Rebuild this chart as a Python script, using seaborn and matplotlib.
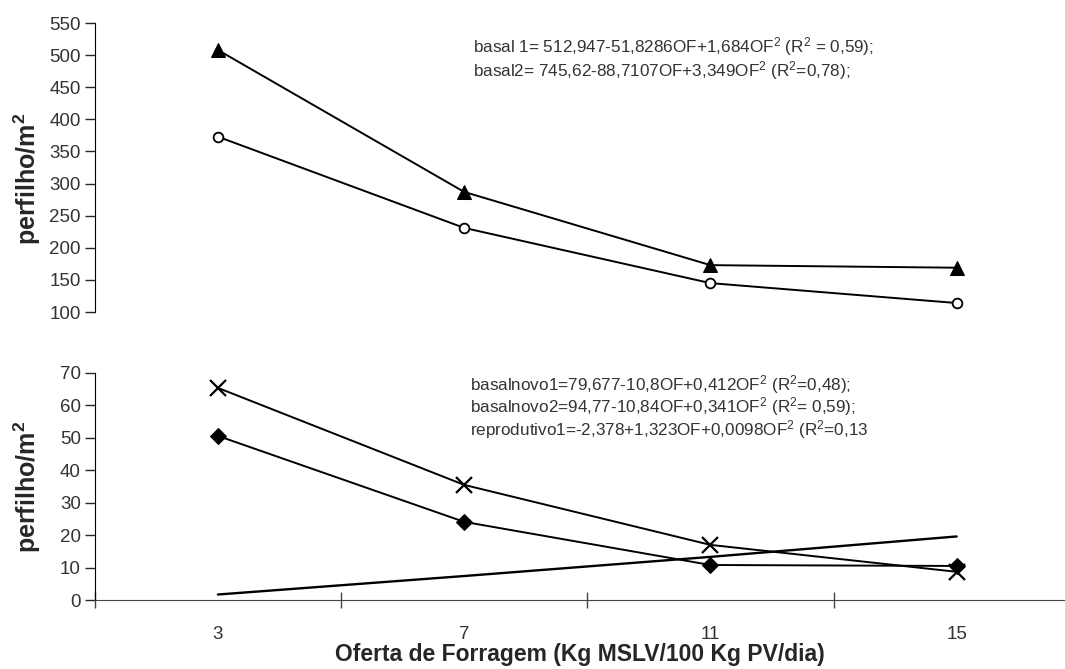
import numpy as np
import pandas as pd
import matplotlib
matplotlib.use("Agg")
import matplotlib.pyplot as plt
import seaborn as sns

sns.set_style("white")
plt.rcParams['font.family'] = ['Liberation Sans', 'DejaVu Sans']
plt.rcParams['mathtext.default'] = 'regular'

# Oferta de forragem (categorias do eixo x)
oferta = ['3', '7', '11', '15']

# perfilhos basais (painel de cima)
basal1 = [373, 231, 145, 114]
basal2 = [508, 287, 173, 169]

# perfilhos novos e reprodutivos (painel de baixo)
basalnovo1 = [50.6, 24.1, 10.8, 10.5]
basalnovo2 = [65.4, 35.5, 17.0, 8.7]
reprodutivo1 = [1.7, 7.4, 13.3, 19.6]

pos = np.arange(len(oferta)) + 0.5
df = pd.DataFrame({'pos': pos, 'basal1': basal1, 'basal2': basal2,
                   'basalnovo1': basalnovo1, 'basalnovo2': basalnovo2,
                   'reprodutivo1': reprodutivo1})

fig = plt.figure(figsize=(10.65, 6.69), dpi=100)
ax1 = fig.add_axes([0.089, 0.5336, 0.911, 0.432])
ax2 = fig.add_axes([0.089, 0.1031, 0.911, 0.3394])

txt = '#333333'

# painel de cima
sns.lineplot(data=df, x='pos', y='basal2', ax=ax1, color='black', lw=1.4,
             marker='^', markersize=10, markeredgecolor='black')
sns.lineplot(data=df, x='pos', y='basal1', ax=ax1, color='black', lw=1.4,
             marker='o', markersize=7, markerfacecolor='white',
             markeredgecolor='black', markeredgewidth=1.3)
ax1.set_ylim(100, 550)
ax1.set_yticks(np.arange(100, 551, 50))
ax1.set_xlim(0, 3.94)
ax1.set_xticks([])
for s in ['top', 'right', 'bottom']:
    ax1.spines[s].set_visible(False)
ax1.spines['left'].set_color('black')
ax1.tick_params(axis='y', direction='out', length=7, width=1, left=True,
                labelsize=13.5, labelcolor=txt, pad=3)
ax1.set_xlabel('')
ax1.set_ylabel('perfilho/m$^2$', fontsize=18, fontweight='bold')
ax1.yaxis.set_label_coords(-0.053, 0.46)
ax1.text(0.39, 0.90, 'basal 1= 512,947-51,8286OF+1,684OF$^2$ (R$^2$ = 0,59);',
         transform=ax1.transAxes, fontsize=12.3, color=txt)
ax1.text(0.39, 0.815, 'basal2= 745,62-88,7107OF+3,349OF$^2$ (R$^2$=0,78);',
         transform=ax1.transAxes, fontsize=12.3, color=txt)

# painel de baixo
sns.lineplot(data=df, x='pos', y='basalnovo2', ax=ax2, color='black', lw=1.4,
             marker='x', markersize=12, markeredgewidth=1.6,
             markeredgecolor='black')
sns.lineplot(data=df, x='pos', y='basalnovo1', ax=ax2, color='black', lw=1.4,
             marker='D', markersize=8, markeredgecolor='black')
sns.lineplot(data=df, x='pos', y='reprodutivo1', ax=ax2, color='black', lw=1.7)
ax2.set_ylim(0, 70)
ax2.set_yticks(np.arange(0, 71, 10))
ax2.set_xlim(0, 3.94)
ax2.set_xticks(pos)
ax2.set_xticklabels(oferta)
ax2.set_xticks([0, 1, 2, 3], minor=True)
for s in ['top', 'right']:
    ax2.spines[s].set_visible(False)
ax2.spines['left'].set_color('black')
ax2.spines['bottom'].set_color('#444444')
ax2.tick_params(axis='y', direction='out', length=7, width=1, left=True,
                labelsize=13.5, labelcolor=txt, pad=3)
ax2.tick_params(axis='x', which='minor', direction='inout', length=12,
                width=1, bottom=True, color='#444444')
ax2.tick_params(axis='x', which='major', length=0, labelsize=13.5,
                labelcolor=txt, pad=19)
ax2.set_xlabel('Oferta de Forragem (Kg MSLV/100 Kg PV/dia)', fontsize=16.5,
               fontweight='bold', labelpad=0)
ax2.set_ylabel('perfilho/m$^2$', fontsize=18, fontweight='bold')
ax2.yaxis.set_label_coords(-0.053, 0.5)
ax2.text(0.387, 0.925, 'basalnovo1=79,677-10,8OF+0,412OF$^2$ (R$^2$=0,48);',
         transform=ax2.transAxes, fontsize=12.3, color=txt)
ax2.text(0.387, 0.825, 'basalnovo2=94,77-10,84OF+0,341OF$^2$ (R$^2$= 0,59);',
         transform=ax2.transAxes, fontsize=12.3, color=txt)
ax2.text(0.387, 0.725, 'reprodutivo1=-2,378+1,323OF+0,0098OF$^2$ (R$^2$=0,13',
         transform=ax2.transAxes, fontsize=12.3, color=txt)

fig.savefig('out.png', dpi=100)
